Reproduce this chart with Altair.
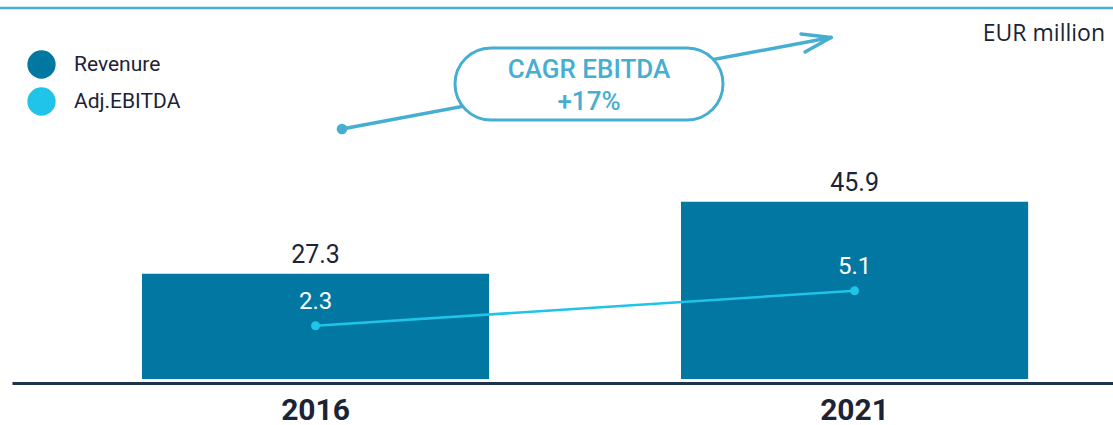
import altair as alt
import pandas as pd

# ---- data ----
years = ["2016", "2021"]
revenue = [27.3, 45.9]
ebitda = [2.3, 5.1]
series_names = ["Revenure", "Adj.EBITDA"]
series_colors = ["#0277a1", "#1fc4e8"]
unit_label = ["EUR million"]
cagr_lines = ["CAGR EBITDA", "+17%"]

DARK = "#1b2436"
ACCENT = "#46aed0"
FONT = "Roboto"

df = pd.DataFrame({
    "year": years,
    "revenue": revenue,
    "ebitda": ebitda,
    "series": [series_names[0]] * len(years),
})
one = pd.DataFrame({"unit": unit_label})

x_enc = alt.X(
    "year:N", sort=years, title=None,
    scale=alt.Scale(paddingInner=0.356, paddingOuter=0.1993, align=0.605),
    axis=alt.Axis(labelAngle=0, ticks=False, grid=False,
                  domainColor="#1e3350", domainWidth=3, offset=4,
                  labelFont=FONT, labelFontSize=30, labelFontWeight="bold",
                  labelColor=DARK, labelPadding=12),
)

y_rev = alt.Y("revenue:Q", scale=alt.Scale(domain=[0, 98.2], nice=False, zero=False), axis=None)
y_ebit = alt.Y("ebitda:Q", scale=alt.Scale(domain=[-1.96, 28.36], nice=False, zero=False), axis=None)

base = alt.Chart(df)

bars = base.mark_bar().encode(
    x=x_enc, y=y_rev,
    color=alt.Color("series:N",
                    scale=alt.Scale(domain=series_names, range=series_colors),
                    legend=alt.Legend(title=None, orient="none", legendX=15, legendY=50,
                                      symbolType="circle", symbolSize=800,
                                      symbolStrokeWidth=0, labelFont=FONT,
                                      labelFontSize=21, labelColor=DARK,
                                      labelOffset=18, rowPadding=8, padding=0)),
)
rev_text = base.mark_text(dy=-18.5, baseline="middle", font=FONT, fontSize=25, color=DARK).encode(
    x=x_enc, y=y_rev, text=alt.Text("revenue:Q", format=".1f"))

line = base.mark_line(color=series_colors[1], strokeWidth=2.5).encode(x=x_enc, y=y_ebit)
pts = base.mark_circle(color=series_colors[1], size=80, opacity=1).encode(x=x_enc, y=y_ebit)
ebit_text = base.mark_text(dy=-24, baseline="middle", font=FONT, fontSize=24, color="white").encode(
    x=x_enc, y=y_ebit, text=alt.Text("ebitda:Q", format=".1f"))

rev_layer = alt.layer(bars, rev_text)
ebit_layer = alt.layer(line, pts, ebit_text)
data_layers = alt.layer(rev_layer, ebit_layer).resolve_scale(y="independent")

# ---- annotations (pixel positions relative to plot origin, x shifted by left padding 12) ----
ann = alt.Chart(one)
top_line = ann.mark_rule(color=ACCENT, strokeWidth=2.5).encode(
    x=alt.value(-12), x2=alt.value(1101), y=alt.value(8))
arrow = ann.mark_rule(color=ACCENT, strokeWidth=3.5, strokeCap="round").encode(
    x=alt.value(330), y=alt.value(129), x2=alt.value(819), y2=alt.value(37.5))
head1 = ann.mark_rule(color=ACCENT, strokeWidth=3.5, strokeCap="round").encode(
    x=alt.value(819), y=alt.value(37.5), x2=alt.value(789), y2=alt.value(34))
head2 = ann.mark_rule(color=ACCENT, strokeWidth=3.5, strokeCap="round").encode(
    x=alt.value(819), y=alt.value(37.5), x2=alt.value(793), y2=alt.value(52))
dot = ann.mark_circle(color=ACCENT, size=113, opacity=1).encode(x=alt.value(330), y=alt.value(129))
box = ann.mark_rect(cornerRadius=36, fill="white", stroke=ACCENT, strokeWidth=3).encode(
    x=alt.value(443), x2=alt.value(711), y=alt.value(48), y2=alt.value(120))
box_text = ann.mark_text(text=cagr_lines, font=FONT, fontSize=26, fontWeight=500,
                         color=ACCENT, lineHeight=32, baseline="middle", align="center").encode(
    x=alt.value(577), y=alt.value(70))
unit_text = ann.mark_text(align="right", baseline="middle", font="Open Sans",
                          fontSize=23, color=DARK).encode(
    x=alt.value(1093), y=alt.value(34), text="unit:N")

chart = alt.layer(
    data_layers, top_line, arrow, head1, head2, dot, box, box_text, unit_text
).properties(
    width=1101, height=379,
    background="white",
    padding={"left": 12, "top": 0, "right": 0, "bottom": 46},
    autosize=alt.AutoSizeParams(type="none"),
).configure_view(strokeWidth=0).configure_axisY(disable=True)

chart.save("out.html", embed_options={"renderer": "svg", "actions": False})
